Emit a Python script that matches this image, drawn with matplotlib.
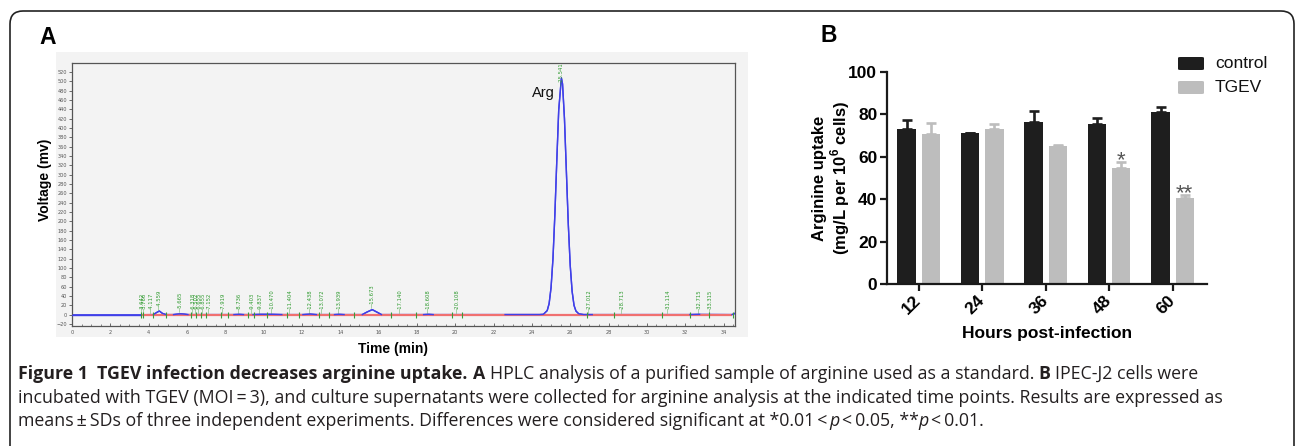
import matplotlib
matplotlib.use("Agg")
import matplotlib.pyplot as plt
import numpy as np
from matplotlib.patches import FancyBboxPatch, Rectangle
from matplotlib.text import Annotation
from matplotlib.ticker import MultipleLocator

plt.rcParams['mathtext.fontset'] = 'custom'
plt.rcParams['mathtext.rm'] = 'Liberation Sans:bold'
plt.rcParams['mathtext.bf'] = 'Liberation Sans:bold'

# ---------------- data: panel A (HPLC chromatogram) ----------------
trace_t = [0, 3.55, 4.25, 4.42, 4.56, 4.72, 4.9, 5.3, 5.5, 5.67, 5.85, 6.05,
           8.45, 8.74, 8.95, 9.45, 9.84, 10.47, 10.95, 12.05, 12.44, 12.75,
           13.7, 13.94, 14.2, 15.15, 15.4, 15.67, 15.9, 16.15, 18.35, 18.61, 18.85,
           22.6, 24.4, 24.6, 24.8, 24.9, 25.0, 25.1, 25.2, 25.3, 25.4, 25.54, 25.6,
           25.7, 25.8, 25.9, 26.0, 26.1, 26.2, 26.3, 26.45, 26.7, 27.15,
           32.25, 32.75, 34.45, 34.6]
trace_v = [0, 0, 0.5, 5, 8, 3, 0.5, 0.5, 1.5, 2, 1.5, 0.5,
           0.5, 1, 0.5, 0.5, 1, 1, 0.5, 0.5, 1.5, 0.5,
           0.5, 1, 0.5, 0.5, 6, 11, 6, 0.5, 0.5, 1, 0.5,
           0.5, 0.5, 1, 9, 24, 58, 120, 215, 330, 438, 507, 494,
           420, 307, 194, 106, 50, 20, 8, 2, 0.5, 0.5,
           0.5, 1, 0.5, 3]
blue_windows = [(0, 3.55), (4.25, 4.9), (5.3, 6.05), (8.45, 8.95), (9.45, 10.95),
                (12.05, 12.75), (13.7, 14.2), (15.15, 16.15), (18.35, 18.85),
                (22.6, 27.15), (32.25, 32.75), (34.45, 34.6)]
peak_labels = ["3.642", "3.766", "4.117", "4.559", "5.665", "6.318", "6.502", "6.655",
               "6.855", "7.152", "7.919", "8.736", "9.403", "9.837", "10.470", "11.404",
               "12.438", "13.072", "13.939", "15.673", "17.140", "18.608", "20.108",
               "25.541", "27.012", "28.713", "31.114", "32.715", "33.315"]
peak_rt = [3.642, 3.766, 4.117, 4.559, 5.665, 6.318, 6.502, 6.655, 6.855, 7.152, 7.919,
           8.736, 9.403, 9.837, 10.470, 11.404, 12.438, 13.072, 13.939, 15.673, 17.140,
           18.608, 20.108, 25.541, 27.012, 28.713, 31.114, 32.715, 33.315]
peak_h = [0.5, 0.5, 0.5, 8, 2, 0.5, 0.5, 0.5, 0.5, 0.5, 0.5, 1, 0.5, 1, 1, 0.5, 1.5,
          0.5, 1, 11, 0.5, 1, 0.5, 507, 0.5, 0.5, 0.5, 0.5, 0.5]
marker_t = [3.6, 3.7, 4.22, 4.9, 6.2, 6.46, 6.72, 6.98, 7.77, 8.13, 9.18, 9.49, 10.17,
            11.2, 11.83, 12.88, 13.4, 14.7, 16.63, 17.93, 19.85, 20.35, 26.89, 28.26,
            30.78, 32.26, 33.23, 34.48]

# ---------------- data: panel B (bar chart) ----------------
hours = ["12", "24", "36", "48", "60"]
control_mean = [73.3, 71.1, 76.4, 75.5, 81.0]
control_sd = [3.9, 0.0, 5.4, 3.0, 2.3]
tgev_mean = [70.8, 73.3, 65.3, 54.6, 40.4]
tgev_sd = [5.0, 2.3, 0.4, 2.8, 1.4]
signif = ["", "", "", "*", "**"]

W, H = 1295, 446
fig = plt.figure(figsize=(W / 100, H / 100), dpi=100)


def fx(px):
    return px / W


def fy(py):
    return 1 - py / H


# outer rounded frame
frame = FancyBboxPatch((0.10, -0.6), 12.84, 4.35 + 0.6,
                       boxstyle="round,pad=0,rounding_size=0.13",
                       transform=fig.dpi_scale_trans, facecolor='none',
                       edgecolor='#222222', linewidth=1.2, zorder=0)
fig.add_artist(frame)

# gray background of the chromatogram image
fig.add_artist(Rectangle((fx(56), fy(337)), fx(748) - fx(56), (337 - 52) / H,
                         transform=fig.transFigure, facecolor='#f3f3f3',
                         edgecolor='none', zorder=0))

# ---------------- panel A ----------------
axA = fig.add_axes([fx(72), fy(326), (735 - 72) / W, (326 - 63) / H])
axA.set_facecolor('#f3f3f3')
axA.set_xlim(0, 34.6)
axA.set_ylim(-24, 539)
t = np.array(trace_t)
v = np.array(trace_v)
axA.plot(t, v, color='#4040e8', lw=1.0, zorder=2)
axA.plot([3.6, 34.45], [0, 0], color='#f07070', lw=1.6, zorder=3, solid_capstyle='butt')
for lo, hi in blue_windows:
    m = (t >= lo) & (t <= hi)
    axA.plot(t[m], v[m], color='#4040e8', lw=1.0, zorder=4)
axA.vlines(marker_t, -6, 6, color='#3a9a3a', lw=0.8, zorder=5)
for rt, lab, h in zip(peak_rt, peak_labels, peak_h):
    yb = h + 3 if h < 100 else h - 18
    axA.text(rt, yb, "\u2014" + lab, rotation=90, fontsize=3.8, color='#2e9a2e',
             ha='center', va='bottom', zorder=6)
axA.text(24.62, 475, "Arg", fontfamily='Liberation Sans', fontsize=10.5,
         ha='center', va='center', color='#111111')
axA.xaxis.set_major_locator(MultipleLocator(2))
axA.xaxis.set_minor_locator(MultipleLocator(0.5))
axA.set_yticks(np.arange(-20, 521, 20))
axA.tick_params(axis='x', which='major', direction='in', length=2.5, width=0.6,
                labelsize=3.6, pad=3, colors='#555555')
axA.tick_params(axis='x', which='minor', direction='in', length=1.2, width=0.5,
                colors='#555555')
axA.tick_params(axis='y', which='major', direction='out', length=2, width=0.6,
                labelsize=3.6, pad=1.5, colors='#555555')
for s in axA.spines.values():
    s.set_color('#555555')
    s.set_linewidth(0.9)
fig.text(fx(393), fy(349), "Time (min)", fontfamily='Liberation Sans',
         fontweight='bold', fontsize=10, ha='center', va='center')
fig.text(fx(45), fy(180), "Voltage (mv)", fontfamily='Liberation Sans',
         fontweight='bold', fontsize=10, ha='center', va='center', rotation=90)
fig.text(fx(39), fy(38), "A", fontfamily='Liberation Sans', fontweight='bold',
         fontsize=16.5, ha='left', va='center')

# ---------------- panel B ----------------
axB = fig.add_axes([fx(887), fy(284), (1207 - 887) / W, (284 - 72) / H])
x = np.arange(len(hours))
ctrl_c = '#1e1e1e'
tgev_c = '#bdbdbd'
bw = 0.29
axB.bar(x - 0.19, control_mean, bw, color=ctrl_c,
        yerr=[np.zeros(len(x)), control_sd],
        error_kw=dict(ecolor=ctrl_c, elinewidth=1.9, capsize=3.6, capthick=1.9))
axB.bar(x + 0.19, tgev_mean, bw, color=tgev_c,
        yerr=[np.zeros(len(x)), tgev_sd],
        error_kw=dict(ecolor=tgev_c, elinewidth=1.9, capsize=3.6, capthick=1.9))
for i, s in enumerate(signif):
    if s:
        axB.annotate(s, xy=(x[i] + 0.19, tgev_mean[i] + tgev_sd[i]),
                     xytext=(0, -3.0), textcoords='offset points',
                     ha='center', va='baseline', fontsize=16,
                     fontfamily='Liberation Sans', color='#555555')
axB.set_xlim(-0.5, 4.54)
axB.set_ylim(0, 100)
axB.set_yticks([0, 20, 40, 60, 80, 100])
axB.set_xticks(x)
axB.set_xticklabels(hours, rotation=45, ha='right', va='center',
                    rotation_mode='anchor')
for s in ['top', 'right']:
    axB.spines[s].set_visible(False)
for s in ['left', 'bottom']:
    axB.spines[s].set_linewidth(1.6)
    axB.spines[s].set_color('#1a1a1a')
axB.tick_params(axis='both', direction='out', length=5, width=1.6, color='#1a1a1a',
                labelsize=12.5)
axB.tick_params(axis='y', pad=2)
axB.tick_params(axis='x', pad=5)
for lab in axB.get_xticklabels() + axB.get_yticklabels():
    lab.set_fontfamily('Liberation Sans')
    lab.set_fontweight('bold')
axB.set_xlabel("Hours post-infection", fontfamily='Liberation Sans',
               fontweight='bold', fontsize=12.5)
axB.xaxis.set_label_coords(0.5, -0.2)
axB.set_ylabel("Arginine uptake\n(mg/L per 10$^{\\mathbf{6}}$ cells)",
               fontfamily='Liberation Sans', fontweight='bold', fontsize=12,
               linespacing=1.1)
axB.yaxis.set_label_coords(-0.108, 0.5)
fig.text(fx(821), fy(36), "B", fontfamily='Liberation Sans', fontweight='bold',
         fontsize=16.5, ha='left', va='center')

# legend (drawn manually)
for (lab, col, yc) in [("control", ctrl_c, 63.5), ("TGEV", tgev_c, 87.5)]:
    fig.add_artist(FancyBboxPatch((fx(1178), fy(yc + 6.5)), (1204 - 1178) / W, 13 / H,
                                  boxstyle="round,pad=0,rounding_size=0.002",
                                  transform=fig.transFigure, facecolor=col,
                                  edgecolor='none'))
    fig.text(fx(1215), fy(yc), lab, fontfamily='Liberation Sans', fontsize=12.5,
             ha='left', va='center', color='#111111')

# ---------------- caption ----------------
CAP = dict(fontfamily='Open Sans', fontsize=12.8, color='#231f20')
SP = 3.4


def caption_line(pieces, x_px, base_px):
    prev = None
    for txt, style, gap in pieces:
        kw = dict(CAP)
        kw['fontweight'] = 'bold' if style == 'b' else 'normal'
        kw['fontstyle'] = 'italic' if style == 'i' else 'normal'
        if prev is None:
            prev = fig.text(fx(x_px), fy(base_px), txt, ha='left', va='baseline', **kw)
        else:
            a = Annotation(txt, xy=(1, fy(base_px)), xycoords=(prev, 'figure fraction'),
                           xytext=(gap, 0), textcoords='offset points',
                           ha='left', va='baseline', **kw)
            fig.add_artist(a)
            prev = a


caption_line([("Figure 1", 'b', 0),
              ("TGEV infection decreases arginine uptake.", 'b', 2 * SP),
              ("A", 'b', SP),
              ("HPLC analysis of a purified sample of arginine used as a standard.", 'n', SP),
              ("B", 'b', SP),
              ("IPEC-J2 cells were", 'n', SP)], 18, 379)
caption_line([("incubated with TGEV (MOI\u2009=\u20093), and culture supernatants were collected "
               "for arginine analysis at the indicated time points. Results are expressed as",
               'n', 0)], 18, 403)
caption_line([("means\u2009\u00b1\u2009SDs of three independent experiments. Differences were "
               "considered significant at *0.01\u2009<", 'n', 0),
              ("p", 'i', 1.5),
              ("<\u20090.05, **", 'n', 1.5),
              ("p", 'i', 0),
              ("<\u20090.01.", 'n', 1.5)], 18, 426)

fig.savefig("out.png", dpi=100)
